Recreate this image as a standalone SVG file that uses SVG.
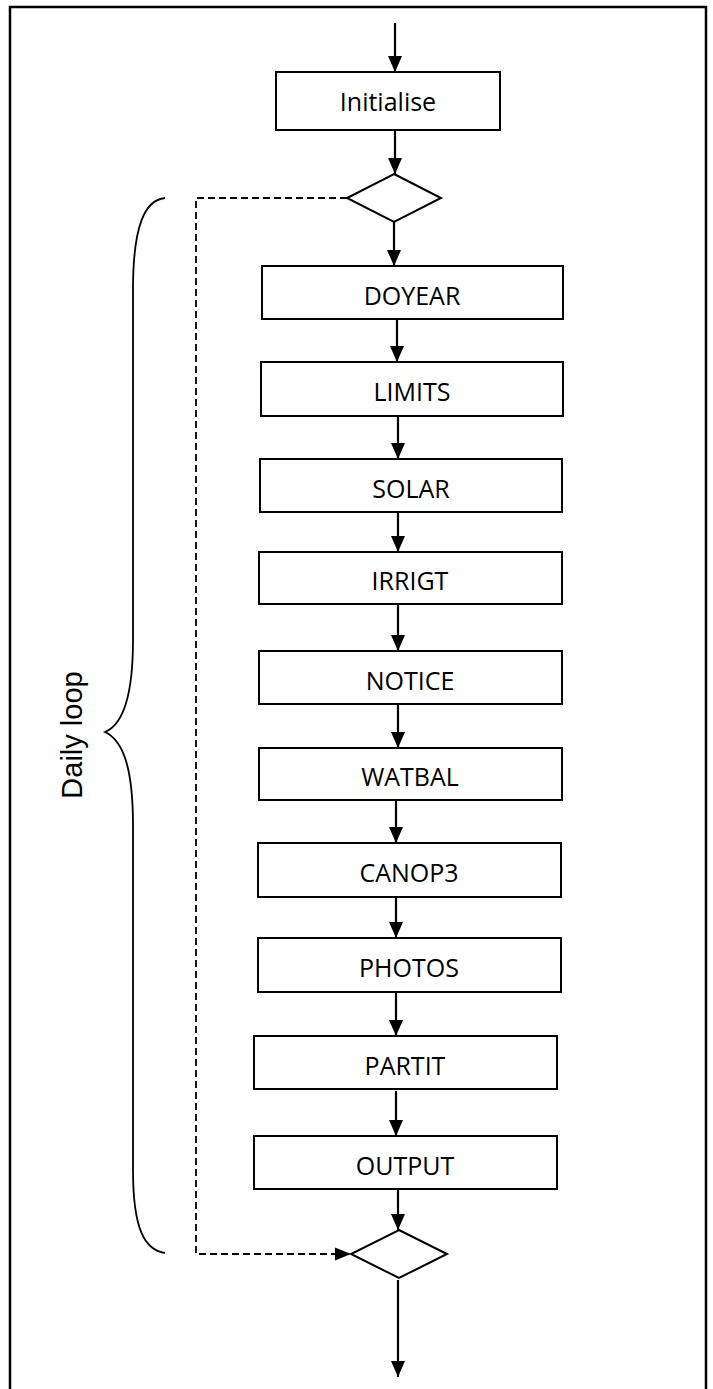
<svg xmlns="http://www.w3.org/2000/svg" width="713" height="1389" viewBox="0 0 713 1389">
<style>
.box{fill:#fff;stroke:#000;stroke-width:2}
.dia{fill:#fff;stroke:#000;stroke-width:2}
.lbl{font-family:"Open Sans","Liberation Sans",sans-serif;font-size:25px;fill:#000;text-anchor:middle}
.ar{stroke:#000;stroke-width:2.2;fill:none;marker-end:url(#ah)}
.dash{stroke:#000;stroke-width:1.8;fill:none;stroke-dasharray:7 4}
</style>
<defs>
<marker id="ah" markerUnits="userSpaceOnUse" markerWidth="16" markerHeight="14" viewBox="0 0 16 14" refX="16" refY="7" orient="auto">
<path d="M0,0 L16,7 L0,14 Z" fill="#000"/>
</marker>
</defs>
<rect x="10" y="7" width="696" height="1400" fill="none" stroke="#000" stroke-width="2.5"/>
<g id="connectors">
<line class="ar" x1="395" y1="23" x2="395" y2="72"/>
<line class="ar" x1="395" y1="130" x2="395" y2="174"/>
<line class="ar" x1="394" y1="222" x2="394" y2="266"/>
<line class="ar" x1="397" y1="319" x2="397" y2="362"/>
<line class="ar" x1="398" y1="416" x2="398" y2="459"/>
<line class="ar" x1="398" y1="512" x2="398" y2="552"/>
<line class="ar" x1="398" y1="604" x2="398" y2="651"/>
<line class="ar" x1="398" y1="704" x2="398" y2="748"/>
<line class="ar" x1="396" y1="800" x2="396" y2="843"/>
<line class="ar" x1="396" y1="897" x2="396" y2="938"/>
<line class="ar" x1="396" y1="992" x2="396" y2="1036"/>
<line class="ar" x1="396" y1="1091" x2="396" y2="1136"/>
<line class="ar" x1="398" y1="1189" x2="398" y2="1230"/>
<line class="ar" x1="398" y1="1280" x2="398" y2="1377"/>
<path class="dash" d="M347,198 H196 V1254 H336"/>
<path d="M335,1247.5 L351,1254 L335,1260.5 Z" fill="#000"/>
</g>
<g id="brace">
<path d="M165,198 C145,200 133,225 133,290 L133,640 C133,700 122,725 105,732 C122,740 133,765 133,825 L133,1170 C133,1230 145,1250 165,1253" fill="none" stroke="#000" stroke-width="1.8"/>
<text x="82" y="735" transform="rotate(-90 82 735)" font-family="'Liberation Sans',Arial,sans-serif" font-size="29" text-anchor="middle" fill="#000">Daily loop</text>
</g>
<g id="initialise"><rect class="box" x="276" y="72" width="224" height="58"/><text class="lbl" x="388" y="111">Initialise</text></g>
<g id="decision-start"><polygon class="dia" points="394,174 441,198 394,222 347,198"/></g>
<g id="doyear"><rect class="box" x="262" y="266" width="301" height="53"/><text class="lbl" x="412" y="305">DOYEAR</text></g>
<g id="limits"><rect class="box" x="261" y="362" width="302" height="54"/><text class="lbl" x="412" y="401">LIMITS</text></g>
<g id="solar"><rect class="box" x="260" y="459" width="302" height="53"/><text class="lbl" x="411" y="498">SOLAR</text></g>
<g id="irrigt"><rect class="box" x="259" y="552" width="303" height="52"/><text class="lbl" x="410" y="590">IRRIGT</text></g>
<g id="notice"><rect class="box" x="259" y="651" width="303" height="53"/><text class="lbl" x="410" y="690">NOTICE</text></g>
<g id="watbal"><rect class="box" x="259" y="748" width="303" height="52"/><text class="lbl" x="410" y="786">WATBAL</text></g>
<g id="canop3"><rect class="box" x="258" y="843" width="303" height="54"/><text class="lbl" x="409" y="882">CANOP3</text></g>
<g id="photos"><rect class="box" x="258" y="938" width="303" height="54"/><text class="lbl" x="409" y="977">PHOTOS</text></g>
<g id="partit"><rect class="box" x="254" y="1036" width="303" height="53"/><text class="lbl" x="405" y="1075">PARTIT</text></g>
<g id="output"><rect class="box" x="254" y="1136" width="303" height="53"/><text class="lbl" x="405" y="1175">OUTPUT</text></g>
<g id="decision-end"><polygon class="dia" points="399,1230 447,1254 399,1278 351,1254"/></g>
</svg>
